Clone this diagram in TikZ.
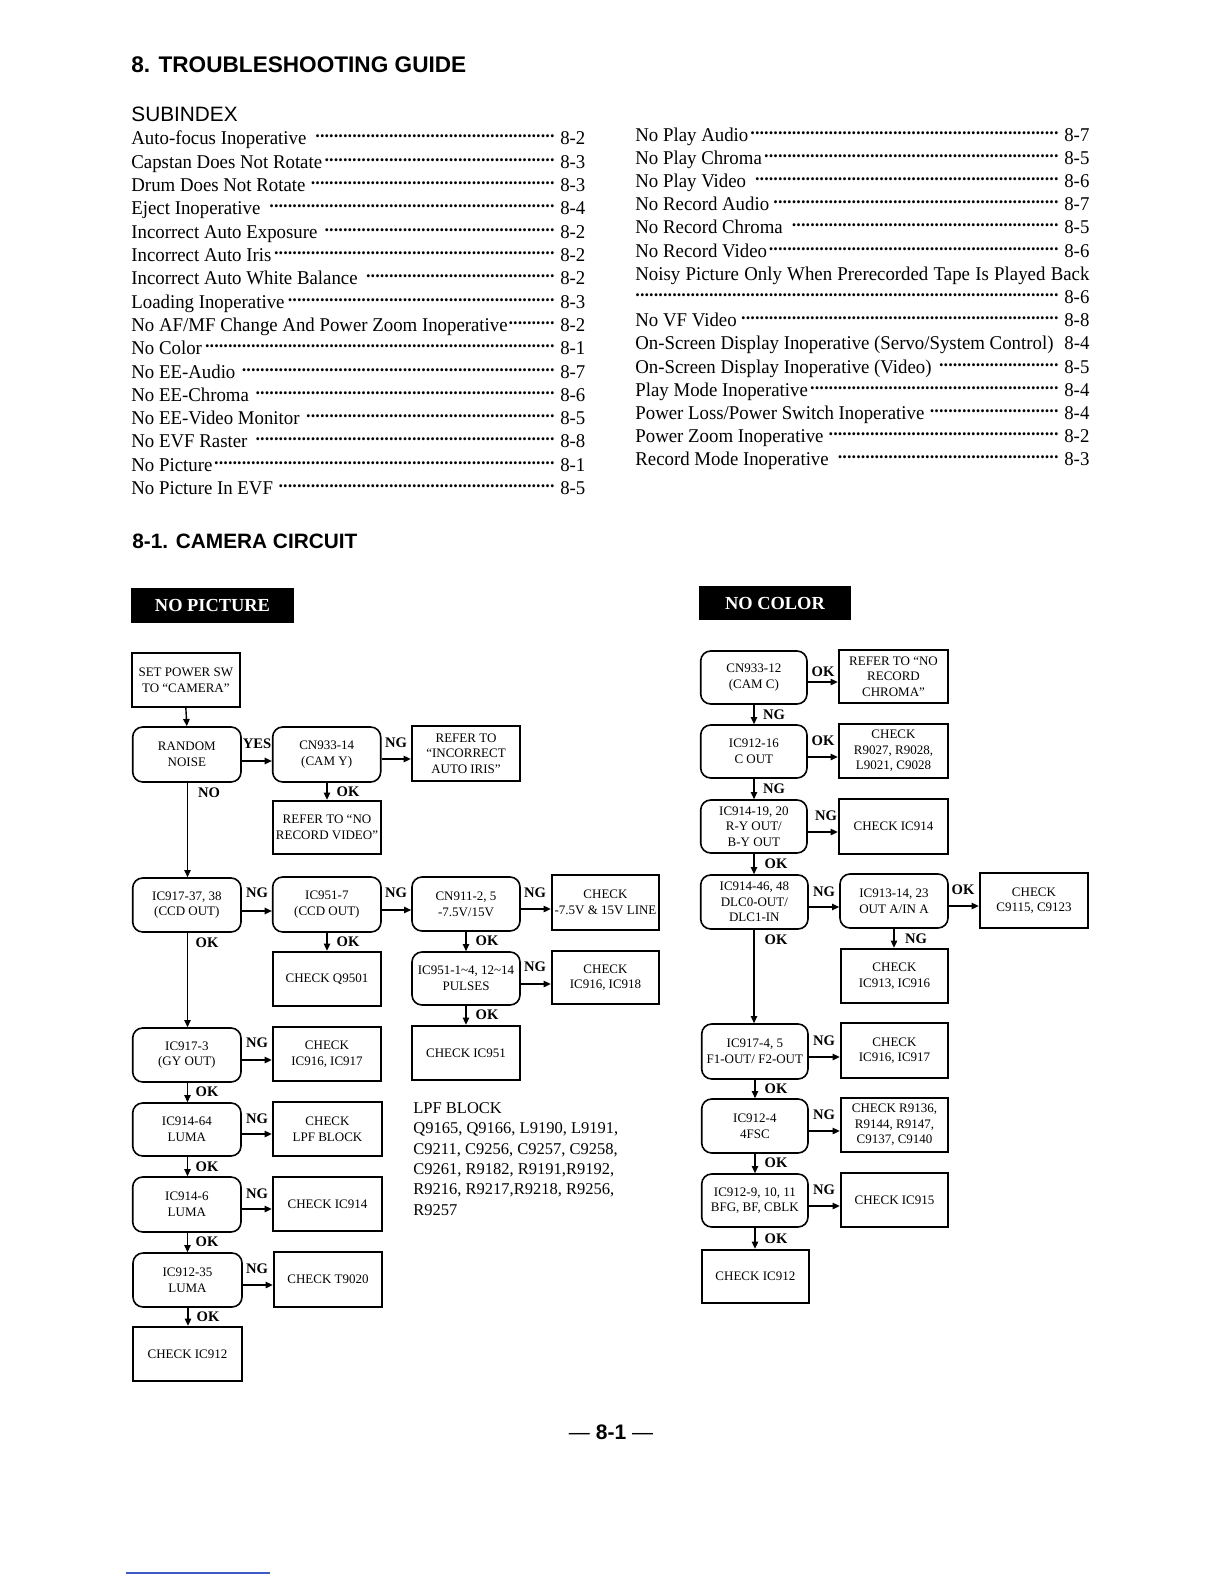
\documentclass[tikz,border=0pt]{standalone}
\usepackage{fontspec}
\setmainfont{Liberation Serif}
\setsansfont{Liberation Sans}
\newfontfamily\idxfont[FakeStretch=0.965]{Liberation Serif}
\usetikzlibrary{arrows.meta}
\newcommand\bxf{\fontsize{6.5}{7.8}\selectfont}
\newcommand\dl{\leaders\hbox to 2.3pt{\hss\fontsize{12.5}{12}\selectfont·\hss}\hfill}
\newcommand\mkbox[7]{\node[#2, minimum width={(#5-#3)*0.5pt}, minimum height={(#6-#4)*0.5pt}] (#1) at ({(#3+#5)/2},{(#4+#6)/2}) {#7};}
\newcommand\irow[4]{\node[idx] (#1) at (#2,#3) {\hbox to 227pt{#4}};}
\tikzset{
  rbox/.style={draw, rounded corners=5pt, line width=0.8pt, align=center, inner sep=0pt, font=\bxf},
  sbox/.style={draw, line width=1.2pt, align=center, inner sep=0pt, font=\bxf},
  lbl/.style={inner sep=0pt, font=\fontsize{7.3}{8}\selectfont\bfseries},
  arr/.style={line width=0.7pt, -{Triangle[length=3.6pt,width=3.2pt]}},
  idx/.style={anchor=base west, inner sep=0pt, font=\idxfont\fontsize{9.75}{11}\selectfont},
  ttl/.style={fill=black, text=white, inner sep=0pt, font=\fontsize{9.2}{11}\selectfont\bfseries},
}
\begin{document}
\begin{tikzpicture}[x=0.5pt,y=-0.5pt]
\useasboundingbox (0,0) rectangle (1224,1584);
\fill[white] (0,0) rectangle (1224,1584);

% headings
\node[anchor=base west, inner sep=0pt, font=\sffamily\bfseries\fontsize{11.3}{13}\selectfont] (h1) at (131,73) {8. TROUBLESHOOTING GUIDE};
\node[anchor=base west, inner sep=0pt, font=\sffamily\fontsize{10.4}{12}\selectfont] (h2) at (131,122) {SUBINDEX};
\node[anchor=base west, inner sep=0pt, font=\sffamily\bfseries\fontsize{10.4}{12}\selectfont] (h3) at (132,548) {8-1. CAMERA CIRCUIT};

% index left
\irow{l1}{131}{145}{Auto-focus Inoperative \dl\ 8-2}
\irow{l2}{131}{168.3}{Capstan Does Not Rotate\dl\ 8-3}
\irow{l3}{131}{191.6}{Drum Does Not Rotate \dl\ 8-3}
\irow{l4}{131}{214.9}{Eject Inoperative \dl\ 8-4}
\irow{l5}{131}{238.2}{Incorrect Auto Exposure \dl\ 8-2}
\irow{l6}{131}{261.5}{Incorrect Auto Iris\dl\ 8-2}
\irow{l7}{131}{284.8}{Incorrect Auto White Balance \dl\ 8-2}
\irow{l8}{131}{308.1}{Loading Inoperative\dl\ 8-3}
\irow{l9}{131}{331.4}{No AF/MF Change And Power Zoom Inoperative\dl\ 8-2}
\irow{l10}{131}{354.7}{No Color\dl\ 8-1}
\irow{l11}{131}{378}{No EE-Audio \dl\ 8-7}
\irow{l12}{131}{401.3}{No EE-Chroma \dl\ 8-6}
\irow{l13}{131}{424.6}{No EE-Video Monitor \dl\ 8-5}
\irow{l14}{131}{447.9}{No EVF Raster \dl\ 8-8}
\irow{l15}{131}{471.2}{No Picture\dl\ 8-1}
\irow{l16}{131}{494.5}{No Picture In EVF \dl\ 8-5}

% index right
\irow{r1}{635}{141}{No Play Audio\dl\ 8-7}
\irow{r2}{635}{164.2}{No Play Chroma\dl\ 8-5}
\irow{r3}{635}{187.4}{No Play Video \dl\ 8-6}
\irow{r4}{635}{210.6}{No Record Audio\dl\ 8-7}
\irow{r5}{635}{233.8}{No Record Chroma \dl\ 8-5}
\irow{r6}{635}{257}{No Record Video\dl\ 8-6}
\irow{r7}{635}{280.2}{Noisy Picture Only When Prerecorded Tape Is Played Back}
\irow{r8}{635}{303.4}{\dl\ 8-6}
\irow{r9}{635}{326.6}{No VF Video\dl\ 8-8}
\irow{r10}{635}{349.8}{On-Screen Display Inoperative (Servo/System Control)\hfill 8-4}
\irow{r11}{635}{373}{On-Screen Display Inoperative (Video) \dl\ 8-5}
\irow{r12}{635}{396.2}{Play Mode Inoperative\dl\ 8-4}
\irow{r13}{635}{419.4}{Power Loss/Power Switch Inoperative \dl\ 8-4}
\irow{r14}{635}{442.6}{Power Zoom Inoperative \dl\ 8-2}
\irow{r15}{635}{465.8}{Record Mode Inoperative \dl\ 8-3}

% titles
\mkbox{tnp}{ttl}{131}{588}{294}{623}{NO PICTURE}
\mkbox{tnc}{ttl}{699}{586}{851}{620}{NO COLOR}

% ---------- NO PICTURE chart ----------
\mkbox{setpw}{sbox}{131.7}{653}{240}{707}{SET POWER SW\\TO “CAMERA”}
\mkbox{rn}{rbox}{132.7}{727}{241}{782}{RANDOM\\NOISE}
\mkbox{cnA}{rbox}{272.7}{727}{380.7}{782}{CN933-14\\(CAM Y)}
\mkbox{refiris}{sbox}{412}{726}{520}{781}{REFER TO\\“INCORRECT\\AUTO IRIS”}
\mkbox{refrv}{sbox}{273}{801}{381}{854}{REFER TO “NO\\RECORD VIDEO”}
\mkbox{icA}{rbox}{132.7}{878}{241}{932}{IC917-37, 38\\(CCD OUT)}
\mkbox{icB}{rbox}{272.7}{877}{381}{932}{IC951-7\\(CCD OUT)}
\mkbox{cnB}{rbox}{412}{877}{520}{931}{CN911-2, 5\\-7.5V/15V}
\mkbox{chkline}{sbox}{552}{875}{659}{930}{CHECK\\-7.5V \& 15V LINE}
\mkbox{chkq}{sbox}{273}{952}{381}{1006}{CHECK Q9501}
\mkbox{icC}{rbox}{412}{952}{520}{1005}{IC951-1\textasciitilde4, 12\textasciitilde14\\PULSES}
\mkbox{chkE}{sbox}{552}{951}{659}{1004}{CHECK\\IC916, IC918}
\mkbox{chkF}{sbox}{412}{1026}{520}{1080}{CHECK IC951}
\mkbox{icD}{rbox}{132.7}{1028}{241}{1082}{IC917-3\\(GY OUT)}
\mkbox{chkG}{sbox}{273}{1027}{381}{1081}{CHECK\\IC916, IC917}
\mkbox{icE}{rbox}{132.7}{1103}{241}{1156}{IC914-64\\LUMA}
\mkbox{chkH}{sbox}{273}{1102}{382}{1156}{CHECK\\LPF BLOCK}
\mkbox{icF}{rbox}{132.7}{1177}{241}{1232}{IC914-6\\LUMA}
\mkbox{chkI}{sbox}{273}{1177}{382}{1231}{CHECK IC914}
\mkbox{icG}{rbox}{133}{1253}{242}{1307}{IC912-35\\LUMA}
\mkbox{chkJ}{sbox}{274}{1252}{382}{1307}{CHECK T9020}
\mkbox{chkK}{sbox}{133}{1327}{242}{1381}{CHECK IC912}

\draw[arr] (setpw.south) -- (rn.north);
\draw[arr] (rn.east |- 0,761) -- (cnA.west |- 0,761);
\draw[arr] (cnA.east |- 0,759) -- (refiris.west |- 0,759);
\draw[arr] (cnA.south -| 327,0) -- (refrv.north -| 327,0);
\draw[arr] (rn.south -| 187.5,0) -- (icA.north -| 187.5,0);
\draw[arr] (icA.east |- 0,911) -- (icB.west |- 0,911);
\draw[arr] (icB.east |- 0,910) -- (cnB.west |- 0,910);
\draw[arr] (cnB.east |- 0,909) -- (chkline.west |- 0,909);
\draw[arr] (icB.south -| 327,0) -- (chkq.north -| 327,0);
\draw[arr] (cnB.south -| 466,0) -- (icC.north -| 466,0);
\draw[arr] (icC.east |- 0,984) -- (chkE.west |- 0,984);
\draw[arr] (icC.south -| 466,0) -- (chkF.north -| 466,0);
\draw[arr] (icA.south -| 187.5,0) -- (icD.north -| 187.5,0);
\draw[arr] (icD.east |- 0,1060) -- (chkG.west |- 0,1060);
\draw[arr] (icD.south -| 187.5,0) -- (icE.north -| 187.5,0);
\draw[arr] (icE.east |- 0,1134) -- (chkH.west |- 0,1134);
\draw[arr] (icE.south -| 187.5,0) -- (icF.north -| 187.5,0);
\draw[arr] (icF.east |- 0,1209) -- (chkI.west |- 0,1209);
\draw[arr] (icF.south -| 187.5,0) -- (icG.north -| 187.5,0);
\draw[arr] (icG.east |- 0,1285) -- (chkJ.west |- 0,1285);
\draw[arr] (icG.south -| 188,0) -- (chkK.north -| 188,0);

\node[lbl] (a1) at (257,744) {YES};
\node[lbl] (a2) at (396,743) {NG};
\node[lbl] (a3) at (348,792) {OK};
\node[lbl] (a4) at (209,793) {NO};
\node[lbl] (a5) at (257,893) {NG};
\node[lbl] (a6) at (396,893) {NG};
\node[lbl] (a7) at (535,893) {NG};
\node[lbl] (a8) at (207,943) {OK};
\node[lbl] (a9) at (348,942) {OK};
\node[lbl] (a10) at (487,941) {OK};
\node[lbl] (a11) at (535,967) {NG};
\node[lbl] (a12) at (487,1015) {OK};
\node[lbl] (a13) at (257,1043) {NG};
\node[lbl] (a14) at (207,1092) {OK};
\node[lbl] (a15) at (257,1119) {NG};
\node[lbl] (a16) at (207,1167) {OK};
\node[lbl] (a17) at (257,1194) {NG};
\node[lbl] (a18) at (207,1242) {OK};
\node[lbl] (a19) at (257,1269) {NG};
\node[lbl] (a20) at (208,1317) {OK};

\node[anchor=north west, inner sep=0pt, align=left, font=\fontsize{8.25}{10.2}\selectfont] (lpf) at (413,1102)
 {LPF BLOCK\\Q9165, Q9166, L9190, L9191,\\C9211, C9256, C9257, C9258,\\C9261, R9182, R9191,R9192,\\R9216, R9217,R9218, R9256,\\R9257};

% ---------- NO COLOR chart ----------
\mkbox{cnC}{rbox}{700.7}{651}{807}{704}{CN933-12\\(CAM C)}
\mkbox{refrc}{sbox}{839}{650}{948}{703}{REFER TO “NO\\RECORD\\CHROMA”}
\mkbox{icH}{rbox}{700.7}{725}{807}{778}{IC912-16\\C OUT}
\mkbox{chkL}{sbox}{839}{724}{948}{778}{CHECK\\R9027, R9028,\\L9021, C9028}
\mkbox{icI}{rbox}{700.7}{800}{807}{853}{IC914-19, 20\\R-Y OUT/\\B-Y OUT}
\mkbox{chkM}{sbox}{839}{799}{948}{854}{CHECK IC914}
\mkbox{icJ}{rbox}{700.7}{875}{808}{929}{IC914-46, 48\\DLC0-OUT/\\DLC1-IN}
\mkbox{icK}{rbox}{840}{874}{948}{928}{IC913-14, 23\\OUT A/IN A}
\mkbox{chkN}{sbox}{980}{873}{1088}{928}{CHECK\\C9115, C9123}
\mkbox{chkO}{sbox}{841}{949}{948}{1003}{CHECK\\IC913, IC916}
\mkbox{icL}{rbox}{701.7}{1024}{808}{1079}{IC917-4, 5\\F1-OUT/ F2-OUT}
\mkbox{chkP}{sbox}{841}{1023}{948}{1078}{CHECK\\IC916, IC917}
\mkbox{icM}{rbox}{701.7}{1099}{808}{1153}{IC912-4\\4FSC}
\mkbox{chkQ}{sbox}{841}{1098}{948}{1152}{CHECK R9136,\\R9144, R9147,\\C9137, C9140}
\mkbox{icN}{rbox}{701.7}{1174}{808}{1227}{IC912-9, 10, 11\\BFG, BF, CBLK}
\mkbox{chkR}{sbox}{841}{1173}{948}{1227}{CHECK IC915}
\mkbox{chkS}{sbox}{701.7}{1250}{809}{1303}{CHECK IC912}

\draw[arr] (cnC.east |- 0,682) -- (refrc.west |- 0,682);
\draw[arr] (cnC.south -| 754,0) -- (icH.north -| 754,0);
\draw[arr] (icH.east |- 0,757) -- (chkL.west |- 0,757);
\draw[arr] (icH.south -| 754,0) -- (icI.north -| 754,0);
\draw[arr] (icI.east |- 0,832) -- (chkM.west |- 0,832);
\draw[arr] (icI.south -| 754,0) -- (icJ.north -| 754,0);
\draw[arr] (icJ.east |- 0,907) -- (icK.west |- 0,907);
\draw[arr] (icK.east |- 0,906) -- (chkN.west |- 0,906);
\draw[arr] (icK.south -| 894,0) -- (chkO.north -| 894,0);
\draw[arr] (icJ.south -| 754,0) -- (icL.north -| 754,0);
\draw[arr] (icL.east |- 0,1057) -- (chkP.west |- 0,1057);
\draw[arr] (icL.south -| 755,0) -- (icM.north -| 755,0);
\draw[arr] (icM.east |- 0,1131) -- (chkQ.west |- 0,1131);
\draw[arr] (icM.south -| 755,0) -- (icN.north -| 755,0);
\draw[arr] (icN.east |- 0,1206) -- (chkR.west |- 0,1206);
\draw[arr] (icN.south -| 755,0) -- (chkS.north -| 755,0);

\node[lbl] (b1) at (823,672) {OK};
\node[lbl] (b2) at (774,715) {NG};
\node[lbl] (b3) at (823,741) {OK};
\node[lbl] (b4) at (774,789) {NG};
\node[lbl] (b5) at (826,816) {NG};
\node[lbl] (b6) at (776,864) {OK};
\node[lbl] (b7) at (824,892) {NG};
\node[lbl] (b8) at (963,890) {OK};
\node[lbl] (b9) at (916,939) {NG};
\node[lbl] (b10) at (776,940) {OK};
\node[lbl] (b11) at (824,1041) {NG};
\node[lbl] (b12) at (776,1089) {OK};
\node[lbl] (b13) at (824,1115) {NG};
\node[lbl] (b14) at (776,1163) {OK};
\node[lbl] (b15) at (824,1190) {NG};
\node[lbl] (b16) at (776,1239) {OK};

% page number and footer line
\node[inner sep=0pt, font=\sffamily\fontsize{10.5}{12}\selectfont] (pg) at (611,1432) {--- \textbf{8-1} ---};
\draw[color={rgb,255:red,60;green,90;blue,200}, line width=0.6pt] (126,1573) -- (270,1573);
\end{tikzpicture}
\end{document}
